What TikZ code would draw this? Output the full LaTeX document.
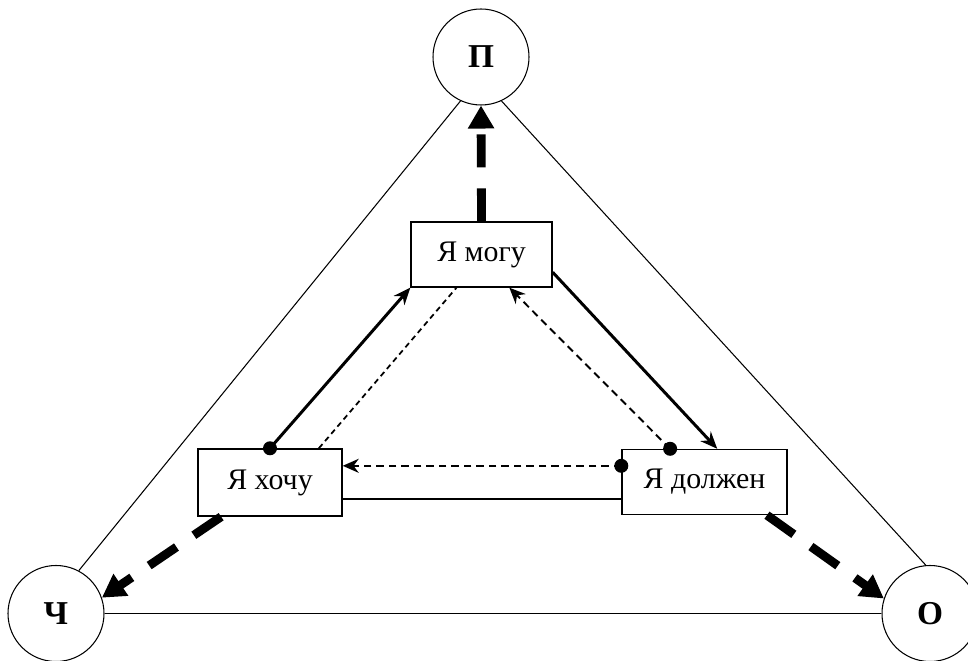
\documentclass[tikz,border=0pt]{standalone}
\usepackage{fontspec}
\usepackage{tikz}
\setmainfont{Liberation Serif}
\usetikzlibrary{arrows.meta}

\begin{document}
\begin{tikzpicture}[
        corner/.style = {
            shape        = circle,
            draw,
            line width   = 0.6pt,
            inner sep    = 0pt,
            minimum size = 1.92cm,
            font         = \fontsize{19}{22}\selectfont\bfseries,
        },
        attitude/.style = {
            shape          = rectangle,
            draw,
            line width     = 0.8pt,
            inner sep      = 0pt,
            minimum height = 1.3cm,
            font           = \fontsize{17}{20}\selectfont,
        },
        thin link/.style = {
            line width = 0.6pt,
        },
        strong/.style = {
            line width = 1.7pt,
            -{Stealth[length = 0.34cm, width = 0.28cm]},
        },
        weak/.style = {
            line width   = 1.1pt,
            dash pattern = on 0.15cm off 0.1cm,
            -{Stealth[length = 0.32cm, width = 0.28cm]},
        },
        faint/.style = {
            line width   = 1pt,
            dash pattern = on 0.11cm off 0.08cm,
        },
        heavy/.style = {
            line width   = 5pt,
            dash pattern = on 0.66cm off 0.42cm,
            -{Triangle[length = 0.46cm, width = 0.5cm]},
        },
    ]
    \useasboundingbox (0, 0) rectangle (19.36, 13.22);

    % corners of the big triangle
    \node (P)  at (9.62, 12.08) [corner] {П};
    \node (Ch) at (1.12,  0.95) [corner] {Ч};
    \node (O)  at (18.60, 0.95) [corner] {О};

    % inner boxes
    \node (mogu)    at (9.63,  8.13) [attitude, minimum width = 2.82cm] {Я могу};
    \node (hochu)   at (5.40,  3.57) [attitude, minimum width = 2.88cm, minimum height = 1.34cm] {Я хочу};
    \node (dolzhen) at (14.09, 3.58) [attitude, minimum width = 3.30cm] {Я должен};

    \draw[thin link] (P.245)   -- (Ch.62);
    \draw[thin link] (P.295)   -- (O.95);
    \draw[thin link] (Ch.east) -- (O.west);

    \draw[heavy] (mogu.north) -- (P.south);
    \draw[heavy] (hochu.215)  -- (Ch.19);
    \draw[heavy] (dolzhen.-28) -- (O.162);

    \draw[strong] (hochu.north) -- (mogu.south west);
    \draw[faint]  (hochu.35)    -- (mogu.233);
    \draw[weak]   (dolzhen.136) -- (mogu.310);
    \draw[strong] (mogu.-14)    -- (dolzhen.69);
    \draw[weak]   (dolzhen.169) -- (dolzhen.169 -| hochu.east);
    \draw[line width = 1.1pt] (hochu.-13) -- (hochu.-13 -| dolzhen.west);

    \fill (hochu.north)   circle (0.14cm);
    \fill (dolzhen.136)   circle (0.14cm);
    \fill (dolzhen.169)   circle (0.14cm);
\end{tikzpicture}
\end{document}
